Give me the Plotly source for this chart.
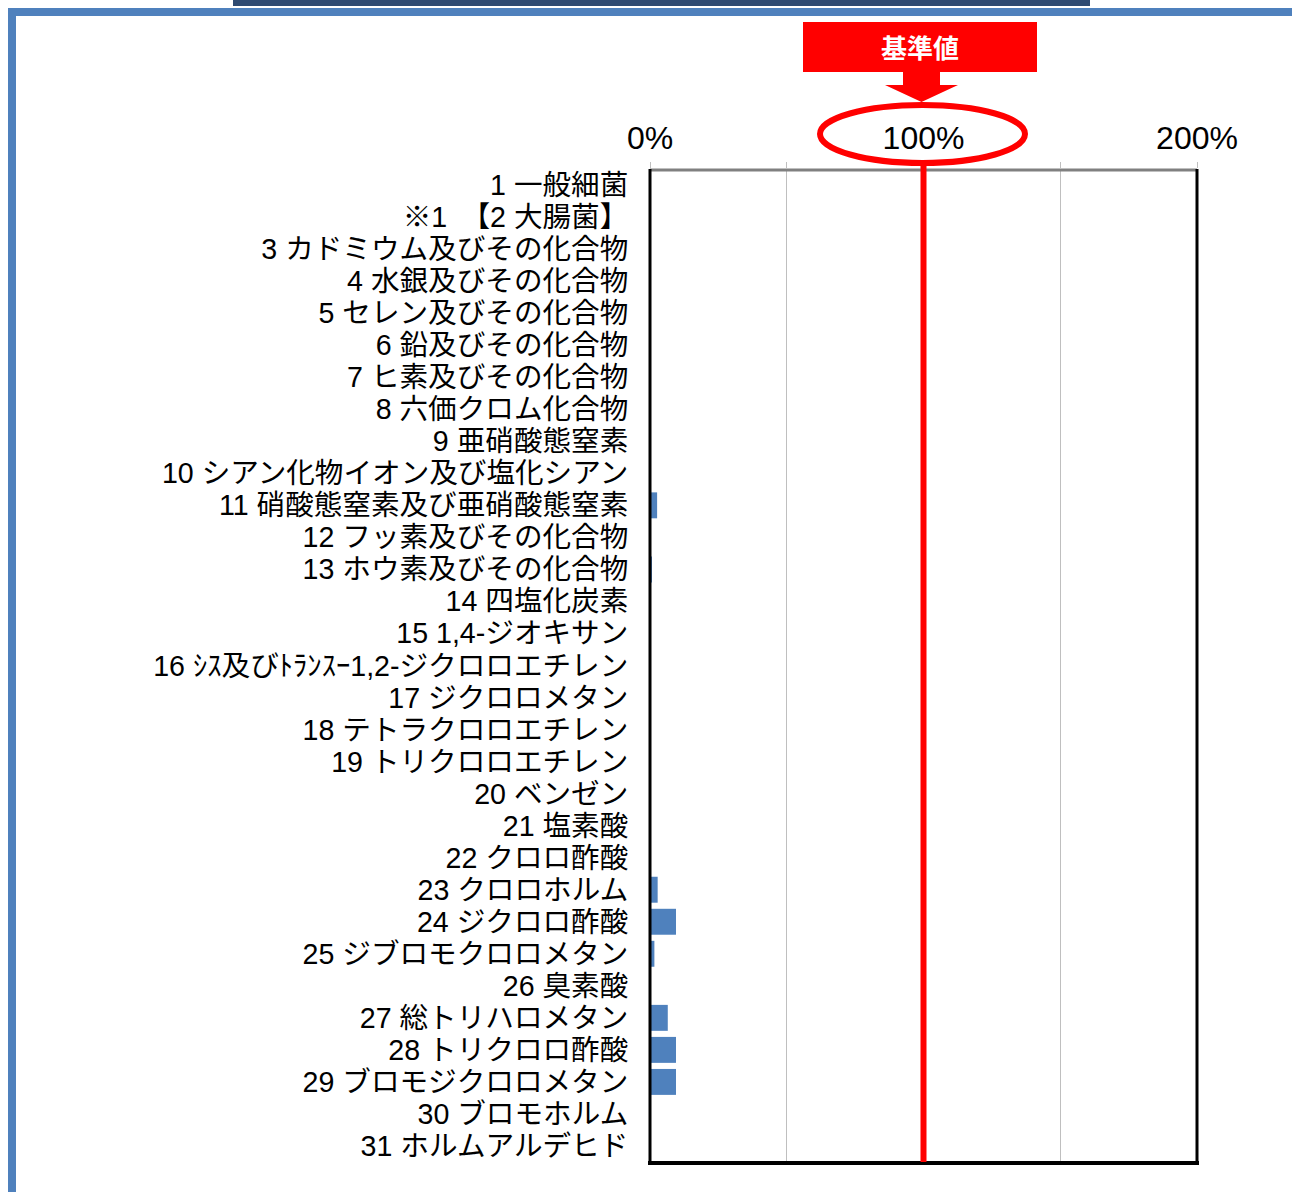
import plotly.graph_objects as go

categories = [
    "1 一般細菌",
    "※1　【2 大腸菌】",
    "3 カドミウム及びその化合物",
    "4 水銀及びその化合物",
    "5 セレン及びその化合物",
    "6 鉛及びその化合物",
    "7 ヒ素及びその化合物",
    "8 六価クロム化合物",
    "9 亜硝酸態窒素",
    "10 シアン化物イオン及び塩化シアン",
    "11 硝酸態窒素及び亜硝酸態窒素",
    "12 フッ素及びその化合物",
    "13 ホウ素及びその化合物",
    "14 四塩化炭素",
    "15 1,4-ジオキサン",
    "16 ｼｽ及びﾄﾗﾝｽｰ1,2-ジクロロエチレン",
    "17 ジクロロメタン",
    "18 テトラクロロエチレン",
    "19 トリクロロエチレン",
    "20 ベンゼン",
    "21 塩素酸",
    "22 クロロ酢酸",
    "23 クロロホルム",
    "24 ジクロロ酢酸",
    "25 ジブロモクロロメタン",
    "26 臭素酸",
    "27 総トリハロメタン",
    "28 トリクロロ酢酸",
    "29 ブロモジクロロメタン",
    "30 ブロモホルム",
    "31 ホルムアルデヒド",
]
values = [0, 0, 0, 0, 0, 0, 0, 0, 0, 0, 2.6, 0, 0.6, 0, 0, 0, 0, 0, 0, 0, 0, 0,
          2.8, 9.5, 1.6, 0, 6.5, 9.5, 9.5, 0, 0]
tick_vals = [0, 50, 100, 150, 200]
tick_text = ["0%", "", "100%", "", "200%"]
baseline = 100
baseline_label = "基準値"

W, H = 1292, 1192
L, R, T, B = 650, 95, 169, 30
pw, ph = W - L - R, H - T - B
XMAX = 200


def px(xp):
    return (xp - L) / pw


def py(yp):
    return 1 - (yp - T) / ph


fig = go.Figure(go.Bar(
    y=categories, x=values, orientation="h",
    marker=dict(color="#4F81BD", line=dict(width=0)),
))

RED = "#FF0000"
shapes = []
# outer blue frame
shapes.append(dict(type="rect", xref="paper", yref="paper",
                   x0=px(12), x1=px(1310), y0=py(1210), y1=py(12),
                   line=dict(color="#4F81BD", width=8), layer="below"))
# dark bar at top
shapes.append(dict(type="rect", xref="paper", yref="paper",
                   x0=px(233), x1=px(1090), y0=py(6), y1=py(-5),
                   line=dict(width=0), fillcolor="#2E4A72"))
# plot-area frame
shapes.append(dict(type="line", xref="paper", yref="paper", x0=0, x1=1, y0=py(170), y1=py(170),
                   line=dict(color="#808080", width=3)))
shapes.append(dict(type="line", xref="paper", yref="paper", x0=0, x1=0, y0=py(1163), y1=py(169),
                   line=dict(color="#000000", width=3)))
shapes.append(dict(type="line", xref="paper", yref="paper", x0=1, x1=1, y0=py(1164), y1=py(169),
                   line=dict(color="#000000", width=3)))
shapes.append(dict(type="line", xref="paper", yref="paper", x0=px(648), x1=px(1199), y0=py(1163), y1=py(1163),
                   line=dict(color="#000000", width=4)))
# baseline red line
shapes.append(dict(type="line", xref="paper", yref="paper",
                   x0=baseline / XMAX, x1=baseline / XMAX, y0=0, y1=py(165),
                   line=dict(color=RED, width=6)))
# ellipse round 100%
shapes.append(dict(type="circle", xref="paper", yref="paper",
                   x0=px(820), x1=px(1025), y0=py(163), y1=py(105),
                   line=dict(color=RED, width=6)))
# label box
shapes.append(dict(type="rect", xref="paper", yref="paper",
                   x0=px(803), x1=px(1037), y0=py(72), y1=py(22),
                   line=dict(width=0), fillcolor=RED))
# arrow
path = "M {a},{b} L {c},{b} L {c},{d} L {e},{d} L {f},{g} L {h},{d} L {i},{d} L {i},{b} Z".format(
    a=px(903), b=py(71), c=px(940), d=py(85), e=px(958), f=px(921.5), g=py(102), h=px(885), i=px(903))
shapes.append(dict(type="path", xref="paper", yref="paper", path=path,
                   line=dict(width=0), fillcolor=RED))

fig.update_layout(
    width=W, height=H,
    margin=dict(l=L, r=R, t=T, b=B, pad=0),
    paper_bgcolor="white", plot_bgcolor="white",
    showlegend=False, bargap=0.19,
    shapes=shapes,
    annotations=[dict(text=baseline_label, xref="paper", yref="paper",
                      x=px(920), y=py(46), xanchor="center", yanchor="middle", showarrow=False,
                      font=dict(family="Noto Sans CJK JP", size=26, color="white", weight="bold"))],
    xaxis=dict(range=[0, XMAX], side="top", tickvals=tick_vals, ticktext=tick_text,
               showgrid=True, gridcolor="#BFBFBF", gridwidth=1, zeroline=False,
               ticks="outside", ticklen=6, tickcolor="#BFBFBF", tickwidth=1,
               tickfont=dict(family="Liberation Sans", size=32, color="black"),
               showline=False, fixedrange=True),
    yaxis=dict(autorange="reversed", showgrid=False, zeroline=False,
               tickmode="array", tickvals=categories, ticktext=categories,
               ticks="outside", ticklen=15, tickcolor="rgba(0,0,0,0)",
               tickfont=dict(family="Liberation Sans, Noto Sans CJK JP", size=28.6, color="black"),
               showline=False),
)

fig.write_html("out.html", config={"displayModeBar": False},
               post_script="document.body.style.margin='0';document.body.style.overflow='hidden';")
